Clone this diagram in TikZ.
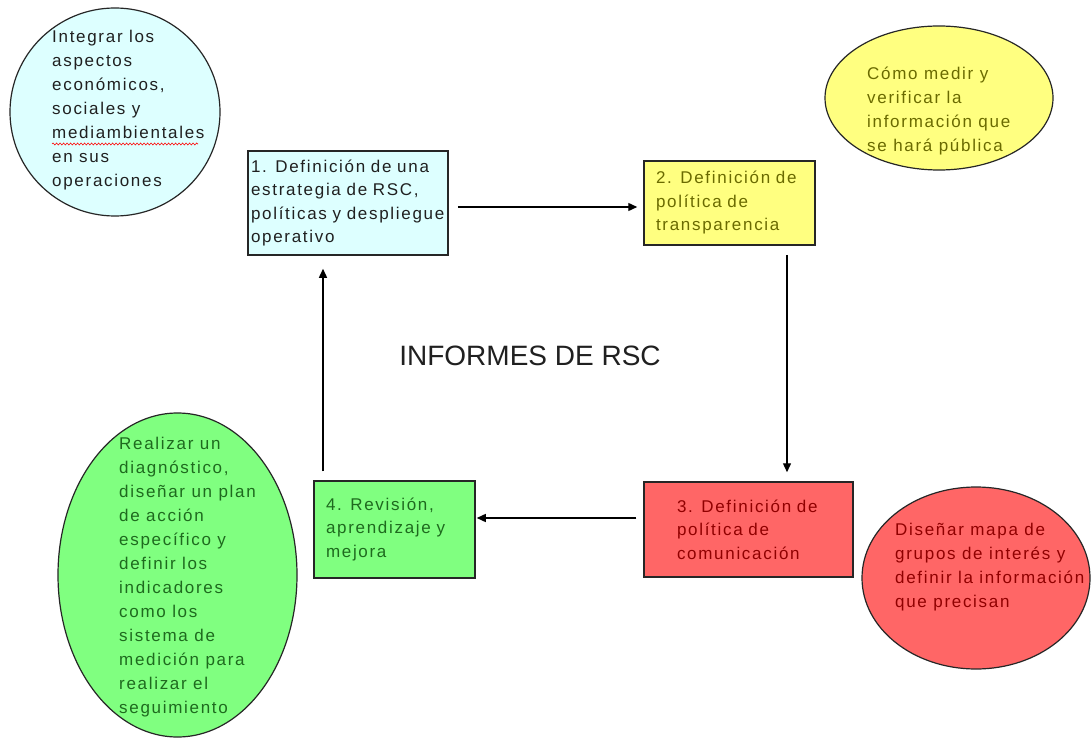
\documentclass[tikz,border=0pt]{standalone}
\usepackage{fontspec}
\setmainfont{Liberation Sans}
\newfontfamily\boxfont[LetterSpace=10]{Liberation Sans}
\usetikzlibrary{shapes.geometric,arrows.meta,decorations.pathmorphing}
\definecolor{cyanf}{HTML}{DDFFFF}
\definecolor{yellowf}{HTML}{FFFF80}
\definecolor{redf}{HTML}{FF6666}
\definecolor{greenf}{HTML}{80FF80}
\definecolor{txtY}{HTML}{6A6A00}
\definecolor{txtR}{HTML}{900000}
\definecolor{txtG}{HTML}{1E6A1E}
\definecolor{txtK}{HTML}{202020}
\begin{document}
\begin{tikzpicture}[x=1pt,y=-1pt,
  stepbox/.style={draw=black!85, line width=1.5pt, rectangle, inner ysep=2pt, align=left,
    font=\boxfont\fontsize{17}{23.5}\selectfont},
  ell/.style={draw=black!85, line width=1.2pt, ellipse, inner sep=0pt},
  etext/.style={anchor=west, inner sep=0pt, align=left, font=\boxfont\fontsize{17}{24}\selectfont},
  arr/.style={draw=black, line width=1.4pt, -{Triangle[length=9pt,width=8pt]}}]
\useasboundingbox[fill=white] (0,0) rectangle (1092,738);

% ellipses
\node[ell, fill=cyanf, minimum width=210, minimum height=208] (e1) at (115,112) {};
\node[etext, text=txtK] (t1) at (52,110) {Integrar los\\aspectos\\económicos,\\sociales y\\mediambientales\\en sus\\operaciones};
\draw[red, line width=0.6pt, decorate, decoration={snake, amplitude=1pt, segment length=3.5pt}]
  ([yshift=-34pt]t1.west) -- ++(146,0);

\node[ell, fill=yellowf, minimum width=228, minimum height=144] (e2) at (939,98) {};
\node[etext, text=txtY] (t2) at (867,111) {Cómo medir y\\verificar la\\información que\\se hará pública};

\node[ell, fill=redf, minimum width=228, minimum height=182] (e3) at (976,578) {};
\node[etext, text=txtR] (t3) at (895,567) {Diseñar mapa de\\grupos de interés y\\definir la información\\que precisan};

\node[ell, fill=greenf, minimum width=239, minimum height=324] (e4) at (177.5,575) {};
\node[etext, text=txtG] (t4) at (119,577) {Realizar un\\diagnóstico,\\diseñar un plan\\de acción\\específico y\\definir los\\indicadores\\como los\\sistema de\\medición para\\realizar el\\seguimiento};

% boxes
\node[stepbox, fill=cyanf, text=txtK, minimum width=200, minimum height=104, text width=194, inner xsep=3pt] (b1) at (348,203)
  {1. Definición de una\\estrategia de RSC,\\políticas y despliegue\\operativo};
\node[stepbox, fill=yellowf, text=txtY, minimum width=171, minimum height=84, text width=147, inner xsep=12pt] (b2) at (729.5,203)
  {2. Definición de\\política de\\transparencia};
\node[stepbox, fill=redf, text=txtR, minimum width=209, minimum height=95, text width=143, inner xsep=33pt] (b3) at (748.5,529.5)
  {3. Definición de\\política de\\comunicación};
\node[stepbox, fill=greenf, text=txtG, minimum width=161, minimum height=97, text width=137, inner xsep=12pt] (b4) at (394.5,529.5)
  {4. Revisión,\\aprendizaje y\\mejora};

\node[font=\fontsize{28}{30}\selectfont, text=txtK, inner sep=0pt] (title) at (530,356) {INFORMES DE RSC};

% connectors
\coordinate (c12) at (0,207);
\coordinate (c23) at (787,0);
\coordinate (c34) at (0,518);
\coordinate (c41) at (323,0);
\draw[arr, shorten <=9pt, shorten >=6pt] (b1.east |- c12) -- (b2.west |- c12);
\draw[arr, shorten <=9pt, shorten >=9pt] (b2.south -| c23) -- (b3.north -| c23);
\draw[arr, shorten <=7pt, shorten >=1pt] (b3.west |- c34) -- (b4.east |- c34);
\draw[arr, shorten <=9pt, shorten >=13pt] (b4.north -| c41) -- (b1.south -| c41);
\end{tikzpicture}
\end{document}
